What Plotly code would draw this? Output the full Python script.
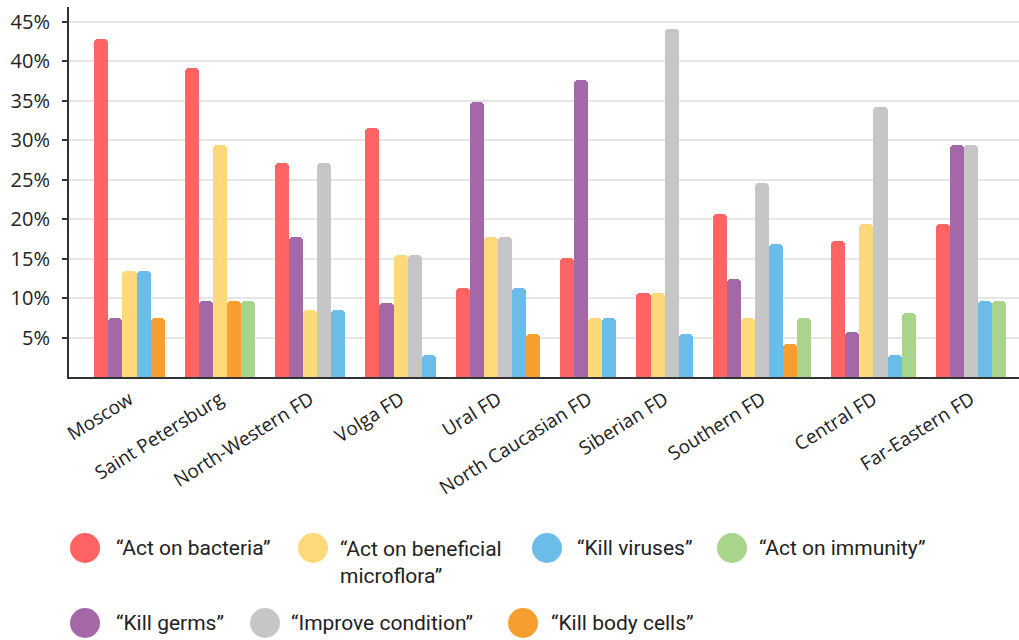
import plotly.graph_objects as go

categories = ["Moscow", "Saint Petersburg", "North-Western FD", "Volga FD", "Ural FD",
              "North Caucasian FD", "Siberian FD", "Southern FD", "Central FD", "Far-Eastern FD"]

# values in %, None = not present (bar omitted and group packed)
act_on_bacteria = [42.9, 39.2, 27.1, 31.6, 11.3, 15.1, 10.6, 20.7, 17.3, 19.4]
kill_germs = [7.5, 9.6, 17.7, 9.4, 34.9, 37.6, None, 12.4, 5.7, 29.4]
act_on_beneficial = [13.5, 29.4, 8.5, 15.5, 17.7, 7.5, 10.6, 7.5, 19.4, None]
improve_condition = [None, None, 27.1, 15.5, 17.7, None, 44.1, 24.6, 34.2, 29.4]
kill_viruses = [13.5, None, 8.5, 2.8, 11.3, 7.5, 5.5, 16.9, 2.8, 9.6]
kill_body_cells = [7.5, 9.6, None, None, 5.5, None, None, 4.2, None, None]
act_on_immunity = [None, 9.6, None, None, None, None, None, 7.5, 8.1, 9.6]

y_ticks = [5, 10, 15, 20, 25, 30, 35, 40, 45]
y_tick_labels = ["5%", "10%", "15%", "20%", "25%", "30%", "35%", "40%", "45%"]

# series in bar order within a group
series = [
    ("“Act on bacteria”", act_on_bacteria, "#FF6464"),
    ("“Kill germs”", kill_germs, "#A468A8"),
    ("“Act on beneficial<br>microflora”", act_on_beneficial, "#FDD97B"),
    ("“Improve condition”", improve_condition, "#C6C6C6"),
    ("“Kill viruses”", kill_viruses, "#6CBCEA"),
    ("“Kill body cells”", kill_body_cells, "#F79E31"),
    ("“Act on immunity”", act_on_immunity, "#A9D48B"),
]

BAR_W = 1.0
GROUP_GAP = 1.42

xs = [[] for _ in series]
ys = [[] for _ in series]
centers = []
cursor = 0.0
for i, cat in enumerate(categories):
    start = cursor
    for k, (_, vals, _) in enumerate(series):
        v = vals[i]
        if v:
            xs[k].append(cursor + BAR_W / 2)
            ys[k].append(v)
            cursor += BAR_W
    centers.append((start + cursor) / 2)
    cursor += GROUP_GAP

fig = go.Figure()
for k, (name, vals, color) in enumerate(series):
    fig.add_trace(go.Bar(
        x=xs[k], y=ys[k], width=BAR_W, name=name,
        marker=dict(color=color, line=dict(width=0), cornerradius=4),
        showlegend=False,
    ))

W, H = 1019, 640
ML, MR, MT, MB = 69, 0, 7, 263
PW = W - ML - MR
PH = H - MT - MB


def px(xp):
    return (xp - ML) / PW


def py(yp):
    return (H - MB - yp) / PH


# manual legend (large circular swatches)
legend_items = [
    (0, 85, 548, 114),
    (2, 313, 548, 338),
    (4, 547, 548, 575),
    (6, 732, 548, 757),
    (1, 85, 623, 114),
    (3, 265, 623, 289),
    (5, 523, 623, 549),
]
R = 15
shapes = []
annotations = []
for k, cx, cy, tx in legend_items:
    name, _, color = series[k]
    shapes.append(dict(type="circle", xref="paper", yref="paper",
                       x0=px(cx - R), x1=px(cx + R), y0=py(cy + R), y1=py(cy - R),
                       fillcolor=color, line=dict(width=0)))
    multiline = "<br>" in name
    annotations.append(dict(
        xref="paper", yref="paper", x=px(tx), y=py(cy - 13) if multiline else py(cy),
        xanchor="left", yanchor="top" if multiline else "middle",
        text=name, showarrow=False, align="left",
        font=dict(family="Roboto", size=21, color="#222222"),
    ))

fig.update_layout(
    width=W, height=H,
    margin=dict(l=ML, r=MR, t=MT, b=MB),
    paper_bgcolor="white", plot_bgcolor="white",
    barmode="overlay",
    bargap=0,
    showlegend=False,
    shapes=shapes,
    annotations=annotations,
    xaxis=dict(
        range=[-1.8, 65.7],
        tickvals=centers, ticktext=categories,
        tickangle=-32,
        showgrid=False, zeroline=False,
        showline=True, linecolor="#333333", linewidth=2,
        ticks="",
        ticklabelstandoff=2,
        tickfont=dict(family="Open Sans", size=19, color="#222222"),
    ),
    yaxis=dict(
        range=[0, 46.9],
        tickvals=y_ticks, ticktext=y_tick_labels,
        showgrid=True, gridcolor="#E6E6E6", gridwidth=2,
        zeroline=False,
        showline=True, linecolor="#333333", linewidth=2,
        ticks="outside", ticklen=5, tickcolor="#333333", tickwidth=1.5,
        ticklabelstandoff=8,
        tickfont=dict(family="Open Sans", size=20, color="#222222"),
    ),
)

fig.write_html("out.html")
